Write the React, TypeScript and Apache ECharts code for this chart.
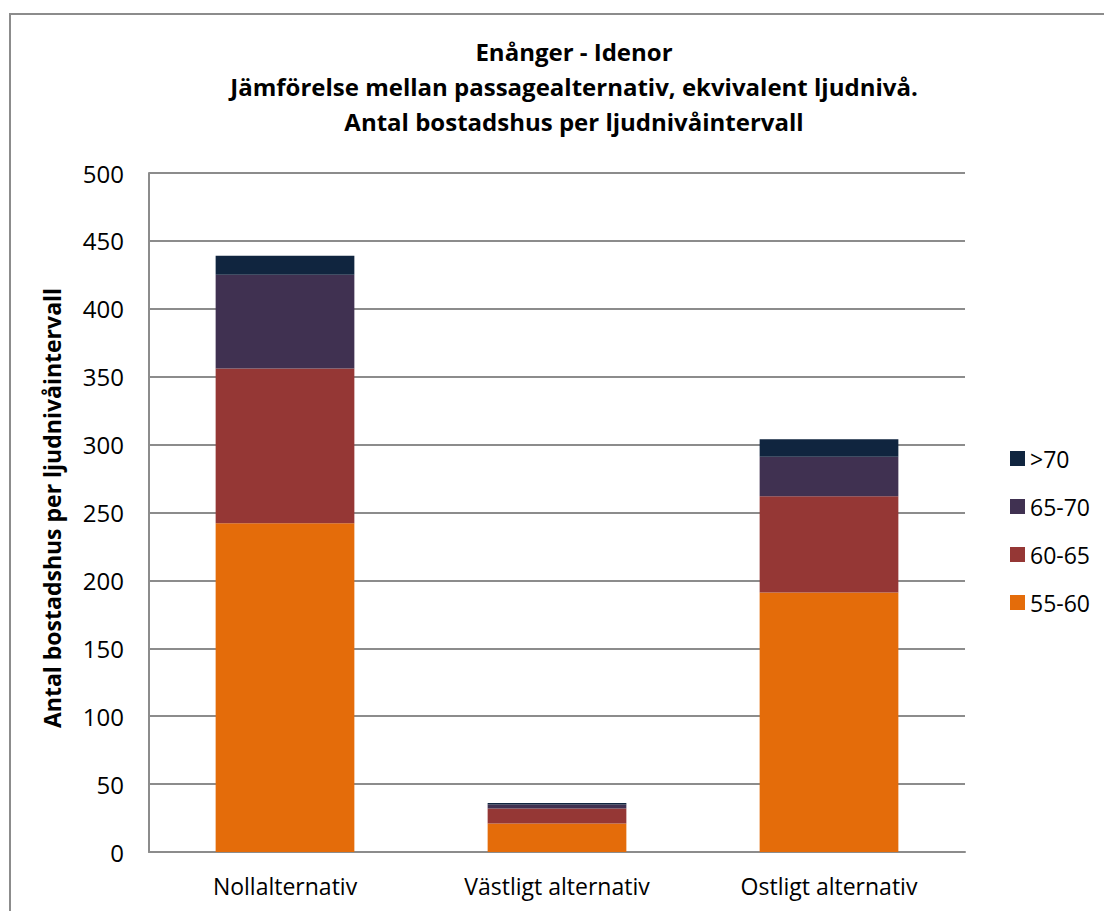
import React, { useEffect, useRef } from "react";
import * as echarts from "echarts";

const categories = ["Nollalternativ", "Västligt alternativ", "Ostligt alternativ"];
const seriesNames = ["55-60", "60-65", "65-70", ">70"];
const values5560 = [242, 21, 191];
const values6065 = [114, 11, 71];
const values6570 = [69, 3, 29];
const values70 = [14, 1, 13];
const seriesColors = ["#E46C0A", "#953735", "#403151", "#10253F"];
const titleLines = [
  "Enånger - Idenor",
  "Jämförelse mellan passagealternativ, ekvivalent ljudnivå.",
  "Antal bostadshus per ljudnivåintervall",
];
const yAxisTitle = "Antal bostadshus per ljudnivåintervall";

const FONT = "'Open Sans', 'Noto Sans', sans-serif";

export default function App() {
  const ref = useRef<HTMLDivElement>(null);

  useEffect(() => {
    document.body.style.margin = "0";
    if (!ref.current) return;
    const chart = echarts.init(ref.current, null, { renderer: "svg" });
    const data = [values5560, values6065, values6570, values70];
    chart.setOption({
      animation: false,
      backgroundColor: "#ffffff",
      textStyle: { fontFamily: FONT },
      title: {
        text: titleLines.join("\n"),
        left: 569,
        top: 29,
        textAlign: "center",
        textStyle: {
          fontFamily: FONT,
          fontWeight: "bold",
          fontSize: 24,
          lineHeight: 35,
          color: "#000",
        },
      },
      legend: {
        orient: "vertical",
        left: 1005,
        top: 442,
        itemWidth: 15,
        itemHeight: 15,
        itemGap: 25,
        icon: "rect",
        data: [...seriesNames].reverse(),
        textStyle: { fontFamily: FONT, fontSize: 23, color: "#000" },
      },
      grid: { left: 149, top: 173, right: 139, bottom: 59 },
      xAxis: {
        type: "category",
        data: categories,
        axisLine: { lineStyle: { color: "#8c8c8c", width: 2 } },
        axisTick: { show: false },
        axisLabel: { fontFamily: FONT, fontSize: 23, color: "#000", margin: 22 },
      },
      yAxis: {
        type: "value",
        min: 0,
        max: 500,
        interval: 50,
        axisLine: { show: true, lineStyle: { color: "#8c8c8c", width: 2 } },
        axisTick: { show: false },
        splitLine: { lineStyle: { color: "#8c8c8c", width: 2 } },
        axisLabel: { fontFamily: FONT, fontSize: 24, color: "#000", margin: 25 },
      },
      graphic: [
        {
          type: "rect",
          shape: { x: 10, y: 14, width: 1200, height: 1000 },
          style: { fill: "none", stroke: "#8c8c8c", lineWidth: 2 },
          silent: true,
        },
        {
          type: "text",
          x: 52,
          y: 508,
          rotation: Math.PI / 2,
          style: {
            text: yAxisTitle,
            fontFamily: FONT,
            fontWeight: "bold",
            fontSize: 23,
            fill: "#000",
            align: "center",
            verticalAlign: "middle",
          },
        },
      ],
      series: seriesNames.map((name, i) => ({
        name,
        type: "bar",
        stack: "total",
        barWidth: "51%",
        data: data[i],
        itemStyle: { color: seriesColors[i] },
      })),
    });
    return () => chart.dispose();
  }, []);

  return <div ref={ref} style={{ width: 1104, height: 911 }} />;
}
